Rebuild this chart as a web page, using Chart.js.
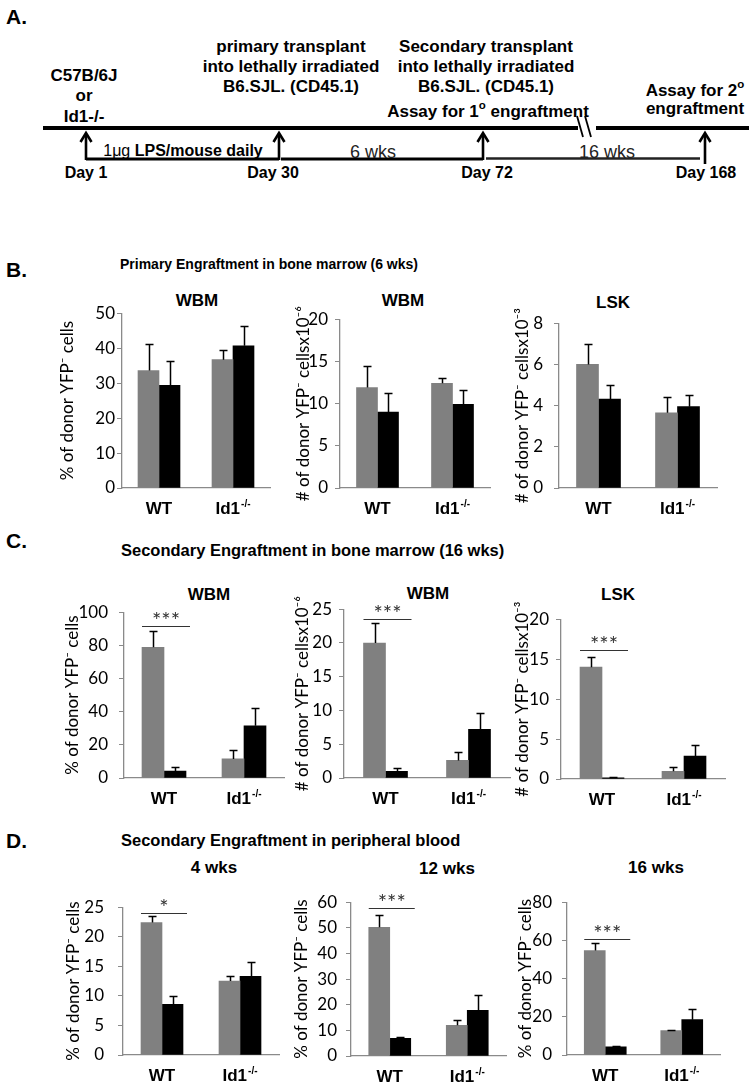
<!DOCTYPE html>
<html><head><meta charset="utf-8">
<script src="https://cdn.jsdelivr.net/npm/chart.js@4.4.0/dist/chart.umd.min.js"></script>
<style>
html,body{margin:0;padding:0;background:#fff;}
body{width:749px;height:1086px;position:relative;overflow:hidden;font-family:"Liberation Sans",Arial,sans-serif;color:#000;}
.t{position:absolute;white-space:nowrap;line-height:1;}
.hdr{font-weight:bold;font-size:21px;}
.sec{font-weight:bold;font-size:16.5px;}
.ct{font-weight:bold;font-size:17px;transform:translate(-50%,-50%);}
svg text{font-family:"Liberation Sans",Arial,sans-serif;}
</style></head><body>

<!-- Panel A: timeline -->
<div class="t hdr" style="left:6px;top:6px;">A.</div>
<svg width="749" height="190" style="position:absolute;left:0;top:0;">
  <g stroke="#000" fill="none" stroke-linecap="butt">
    <line x1="43" y1="128" x2="578" y2="128" stroke-width="4"/>
    <line x1="596" y1="128" x2="749" y2="128" stroke-width="4"/>
    <line x1="577" y1="116" x2="583" y2="137" stroke-width="1.8"/>
    <line x1="585" y1="116" x2="591" y2="137" stroke-width="1.8"/>
    <line x1="86" y1="159" x2="279" y2="159" stroke-width="3"/>
    <line x1="281" y1="159" x2="483" y2="159" stroke-width="3"/>
    <line x1="486" y1="158.5" x2="700" y2="158.5" stroke-width="2.5" stroke="#222"/>
    <line x1="86" y1="160" x2="86" y2="134" stroke-width="2.6"/>
    <polyline points="80.5,142 86,133 91.5,142" stroke-width="2.6"/>
    <line x1="279" y1="160" x2="279" y2="134" stroke-width="2.6"/>
    <polyline points="273.5,142 279,133 284.5,142" stroke-width="2.6"/>
    <line x1="483" y1="160" x2="483" y2="134" stroke-width="2.6"/>
    <polyline points="477.5,142 483,133 488.5,142" stroke-width="2.6"/>
    <line x1="705" y1="164" x2="705" y2="134" stroke-width="2.6"/>
    <polyline points="699.5,142 705,133 710.5,142" stroke-width="2.6"/>
  </g>
  <g font-weight="bold" font-size="17" text-anchor="middle" dominant-baseline="central" fill="#000">
    <text x="84" y="75">C57B/6J</text>
    <text x="84" y="95">or</text>
    <text x="84" y="116">Id1-/-</text>
    <text x="291" y="46">primary transplant</text>
    <text x="291" y="66">into lethally irradiated</text>
    <text x="291" y="86">B6.SJL. (CD45.1)</text>
    <text x="486" y="46">Secondary transplant</text>
    <text x="486" y="66">into lethally irradiated</text>
    <text x="486" y="86">B6.SJL. (CD45.1)</text>
    <text x="488" y="111">Assay for 1<tspan font-size="11.5" dy="-6">o</tspan><tspan dy="6"> engraftment</tspan></text>
    <text x="695" y="90">Assay for 2<tspan font-size="11.5" dy="-6">o</tspan></text>
    <text x="695" y="108">engraftment</text>
  </g>
  <g font-weight="bold" font-size="16" text-anchor="middle" dominant-baseline="central" fill="#000">
    <text x="183" y="150"><tspan font-weight="normal">1μg</tspan> LPS/mouse daily</text>
    <text x="86" y="172">Day 1</text>
    <text x="273" y="172">Day 30</text>
    <text x="487" y="172">Day 72</text>
    <text x="706" y="172">Day 168</text>
  </g>
  <g font-size="18" text-anchor="middle" dominant-baseline="central" fill="#222">
    <text x="373" y="152">6 wks</text>
    <text x="607" y="152">16 wks</text>
  </g>
</svg>

<!-- Section headers -->
<div class="t hdr" style="left:6px;top:259px;">B.</div>
<div class="t sec" style="left:120px;top:257px;font-size:14px;">Primary Engraftment in bone marrow (6 wks)</div>
<div class="t hdr" style="left:6px;top:530px;">C.</div>
<div class="t sec" style="left:121px;top:542px;">Secondary Engraftment in bone marrow (16 wks)</div>
<div class="t hdr" style="left:6px;top:830px;">D.</div>
<div class="t sec" style="left:121px;top:832px;">Secondary Engraftment in peripheral blood</div>

<!-- Chart titles -->
<div class="t ct" style="left:197px;top:300px;">WBM</div>
<div class="t ct" style="left:403px;top:300px;">WBM</div>
<div class="t ct" style="left:613px;top:302px;">LSK</div>
<div class="t ct" style="left:209px;top:594px;">WBM</div>
<div class="t ct" style="left:428px;top:593px;">WBM</div>
<div class="t ct" style="left:618px;top:594px;">LSK</div>
<div class="t ct" style="left:214px;top:867px;">4 wks</div>
<div class="t ct" style="left:447px;top:868px;">12 wks</div>
<div class="t ct" style="left:656px;top:867px;">16 wks</div>

<script>
// ---------- data ----------
const categories = ['WT', 'Id1-/-'];

// B. Primary engraftment in bone marrow (6 wks)
const b1Gray = [33.6, 36.7], b1GrayErr = [7.5, 2.9], b1Black = [29.4, 40.7], b1BlackErr = [7.0, 5.7];
const b2Gray = [11.9, 12.4], b2GrayErr = [2.55, 0.6], b2Black = [9.0, 9.9], b2BlackErr = [2.2, 1.7];
const b3Gray = [6.0, 3.65], b3GrayErr = [1.0, 0.75], b3Black = [4.32, 3.95], b3BlackErr = [0.68, 0.55];

// C. Secondary engraftment in bone marrow (16 wks)
const c1Gray = [78.8, 11.5], c1GrayErr = [10.0, 5.2], c1Black = [4.2, 31.5], c1BlackErr = [2.3, 10.8];
const c2Gray = [20.0, 2.6], c2GrayErr = [2.9, 1.2], c2Black = [1.0, 7.2], c2BlackErr = [0.5, 2.4];
const c3Gray = [14.0, 0.97], c3GrayErr = [1.3, 0.5], c3Black = [0.15, 2.86], c3BlackErr = [0.15, 1.35];

// D. Secondary engraftment in peripheral blood
const d1Gray = [22.4, 12.5], d1GrayErr = [1.1, 0.9], d1Black = [8.55, 13.3], d1BlackErr = [1.45, 2.4];
const d2Gray = [50.2, 12.0], d2GrayErr = [4.8, 1.9], d2Black = [6.9, 17.8], d2BlackErr = [0.7, 6.0];
const d3Gray = [54.7, 12.8], d3GrayErr = [4.1, 0.5], d3Black = [4.3, 18.5], d3BlackErr = [0.5, 5.7];

// significance bars (value on y axis, label)
const sigValues = { c1: 91.8, c2: 23.6, c3: 16.1, d1: 24.0, d2: 57.9, d3: 60.8 };
const sigLabels = { c1: '***', c2: '***', c3: '***', d1: '*', d2: '***', d3: '***' };

// y axis ranges / tick steps
const yMaxes = { b1: 50, b2: 20, b3: 8, c1: 100, c2: 25, c3: 20, d1: 25, d2: 60, d3: 80 };
const ySteps = { b1: 10, b2: 5, b3: 2, c1: 20, c2: 5, c3: 5, d1: 5, d2: 10, d3: 20 };
const pctTitle = '% of donor YFP⁻ cells';
const num6Title = '# of donor YFP⁻ cellsx10⁻⁶';
const num3Title = '# of donor YFP⁻ cellsx10⁻³';

// ---------- plugin: error bars, significance bars, category labels ----------
const barExtras = {
  id: 'barExtras',
  afterDatasetsDraw(chart, args, opts) {
    const ctx = chart.ctx, xs = chart.scales.x, ys = chart.scales.y;
    ctx.save();
    chart.data.datasets.forEach((ds, di) => {
      const meta = chart.getDatasetMeta(di);
      meta.data.forEach((bar, i) => {
        const e = ds.errors[i];
        if (!e) return;
        const x0 = Math.round(bar.x) + 0.5;
        const yv = ys.getPixelForValue(ds.data[i]);
        const ye = Math.round(ys.getPixelForValue(ds.data[i] + e)) + 0.5;
        ctx.strokeStyle = '#000';
        ctx.lineWidth = 1.5;
        ctx.beginPath();
        ctx.moveTo(x0, yv); ctx.lineTo(x0, ye);
        ctx.moveTo(x0 - 4, ye); ctx.lineTo(x0 + 4, ye);
        ctx.stroke();
      });
    });
    if (opts.sigText) {
      const g = chart.getDatasetMeta(0).data[0], b = chart.getDatasetMeta(1).data[0];
      const x1 = g.x - g.width / 2, x2 = b.x + b.width / 2 + 4;
      const yy = Math.round(ys.getPixelForValue(opts.sigValue)) + 0.5;
      ctx.strokeStyle = '#333'; ctx.lineWidth = 1.2;
      ctx.beginPath(); ctx.moveTo(x1, yy); ctx.lineTo(x2, yy); ctx.stroke();
      ctx.fillStyle = '#333';
      ctx.font = '22px Lato';
      ctx.textAlign = 'center'; ctx.textBaseline = 'alphabetic';
      ctx.fillText(opts.sigText, (x1 + x2) / 2, yy + 1);
    }
    // category labels (bold, with superscript -/-)
    const ly = chart.chartArea.bottom + 21;
    ctx.fillStyle = '#000';
    ctx.textBaseline = 'middle';
    chart.data.labels.forEach((lab, i) => {
      const cx = xs.getPixelForValue(i);
      const m = lab.match(/^(.*?)(-\/-)$/);
      const base = m ? m[1] : lab, sup = m ? m[2] : '';
      ctx.font = 'bold 17px "Liberation Sans"';
      const wb = ctx.measureText(base).width;
      ctx.font = 'bold 10px "Liberation Sans"';
      const ws = sup ? ctx.measureText(sup).width + 1 : 0;
      const x0 = cx - (wb + ws) / 2;
      ctx.textAlign = 'left';
      ctx.font = 'bold 17px "Liberation Sans"';
      ctx.fillText(base, x0, ly);
      if (sup) {
        ctx.font = 'bold 10px "Liberation Sans"';
        ctx.fillText(sup, x0 + wb + 1, ly - 5);
      }
    });
    ctx.restore();
  }
};

function makeChart(key, geo, yTitle, gray, grayErr, black, blackErr) {
  const yW = Math.round(geo.gap + 14);
  const left = Math.round(geo.axisX) - yW;
  const top = Math.round(geo.top) - 12;
  const width = Math.round(geo.right) - left + 2;
  const height = Math.round(geo.bottom) - top + 35;
  const c = document.createElement('canvas');
  c.width = width; c.height = height;
  c.style.cssText = `position:absolute;left:${left}px;top:${top}px;width:${width}px;height:${height}px;`;
  document.body.appendChild(c);
  new Chart(c, {
    type: 'bar',
    data: {
      labels: categories,
      datasets: [
        { data: gray, errors: grayErr, backgroundColor: '#808080', borderWidth: 0, barThickness: geo.barW },
        { data: black, errors: blackErr, backgroundColor: '#000000', borderWidth: 0, barThickness: geo.barW }
      ]
    },
    options: {
      responsive: false, animation: false, devicePixelRatio: 1,
      layout: { padding: { top: 12, right: 2, left: 0, bottom: 0 } },
      plugins: {
        legend: { display: false }, tooltip: { enabled: false },
        barExtras: { sigValue: sigValues[key], sigText: sigLabels[key] || '' }
      },
      scales: {
        x: {
          grid: { display: false },
          border: { display: true, color: '#8a8a8a', width: 1.3 },
          ticks: { display: false },
          afterFit: s => { s.height = 35; }
        },
        y: {
          min: 0, max: yMaxes[key],
          ticks: { stepSize: ySteps[key], color: '#000', padding: geo.lab, font: { family: 'Lato', size: 17 } },
          grid: { drawOnChartArea: false, drawTicks: true, tickLength: 5, color: '#8a8a8a' },
          border: { display: true, color: '#8a8a8a', width: 1.3 },
          title: { display: true, text: yTitle, color: '#000', font: { family: 'Lato', size: 17 } },
          afterFit: s => { s.width = yW; }
        }
      }
    },
    plugins: [barExtras]
  });
}

const geoms = {
  b1: { axisX: 122, right: 270, top: 313, bottom: 488, gap: 55, barW: 21, lab: 2 },
  b2: { axisX: 340, right: 490, top: 314, bottom: 488, gap: 37, barW: 21, lab: 7 },
  b3: { axisX: 559, right: 717, top: 314, bottom: 488, gap: 37, barW: 22, lab: 11 },
  c1: { axisX: 124, right: 284, top: 603, bottom: 778, gap: 52, barW: 22, lab: 11 },
  c2: { axisX: 344, right: 510, top: 604, bottom: 778, gap: 42, barW: 22, lab: 7 },
  c3: { axisX: 561, right: 725, top: 614, bottom: 779, gap: 39, barW: 22, lab: 7 },
  d1: { axisX: 123, right: 279, top: 895, bottom: 1055, gap: 50, barW: 21, lab: 14 },
  d2: { axisX: 351, right: 506, top: 895, bottom: 1056, gap: 50, barW: 21, lab: 9 },
  d3: { axisX: 567, right: 720, top: 894, bottom: 1055, gap: 42, barW: 21, lab: 10 }
};

function drawAll() {
  makeChart('b1', geoms.b1, pctTitle, b1Gray, b1GrayErr, b1Black, b1BlackErr);
  makeChart('b2', geoms.b2, num6Title, b2Gray, b2GrayErr, b2Black, b2BlackErr);
  makeChart('b3', geoms.b3, num3Title, b3Gray, b3GrayErr, b3Black, b3BlackErr);
  makeChart('c1', geoms.c1, pctTitle, c1Gray, c1GrayErr, c1Black, c1BlackErr);
  makeChart('c2', geoms.c2, num6Title, c2Gray, c2GrayErr, c2Black, c2BlackErr);
  makeChart('c3', geoms.c3, num3Title, c3Gray, c3GrayErr, c3Black, c3BlackErr);
  makeChart('d1', geoms.d1, pctTitle, d1Gray, d1GrayErr, d1Black, d1BlackErr);
  makeChart('d2', geoms.d2, pctTitle, d2Gray, d2GrayErr, d2Black, d2BlackErr);
  makeChart('d3', geoms.d3, pctTitle, d3Gray, d3GrayErr, d3Black, d3BlackErr);
}

Promise.all([
  document.fonts.load('16px Lato'),
  document.fonts.load('bold 16px "Liberation Sans"')
]).then(drawAll, drawAll);
</script>
</body></html>
